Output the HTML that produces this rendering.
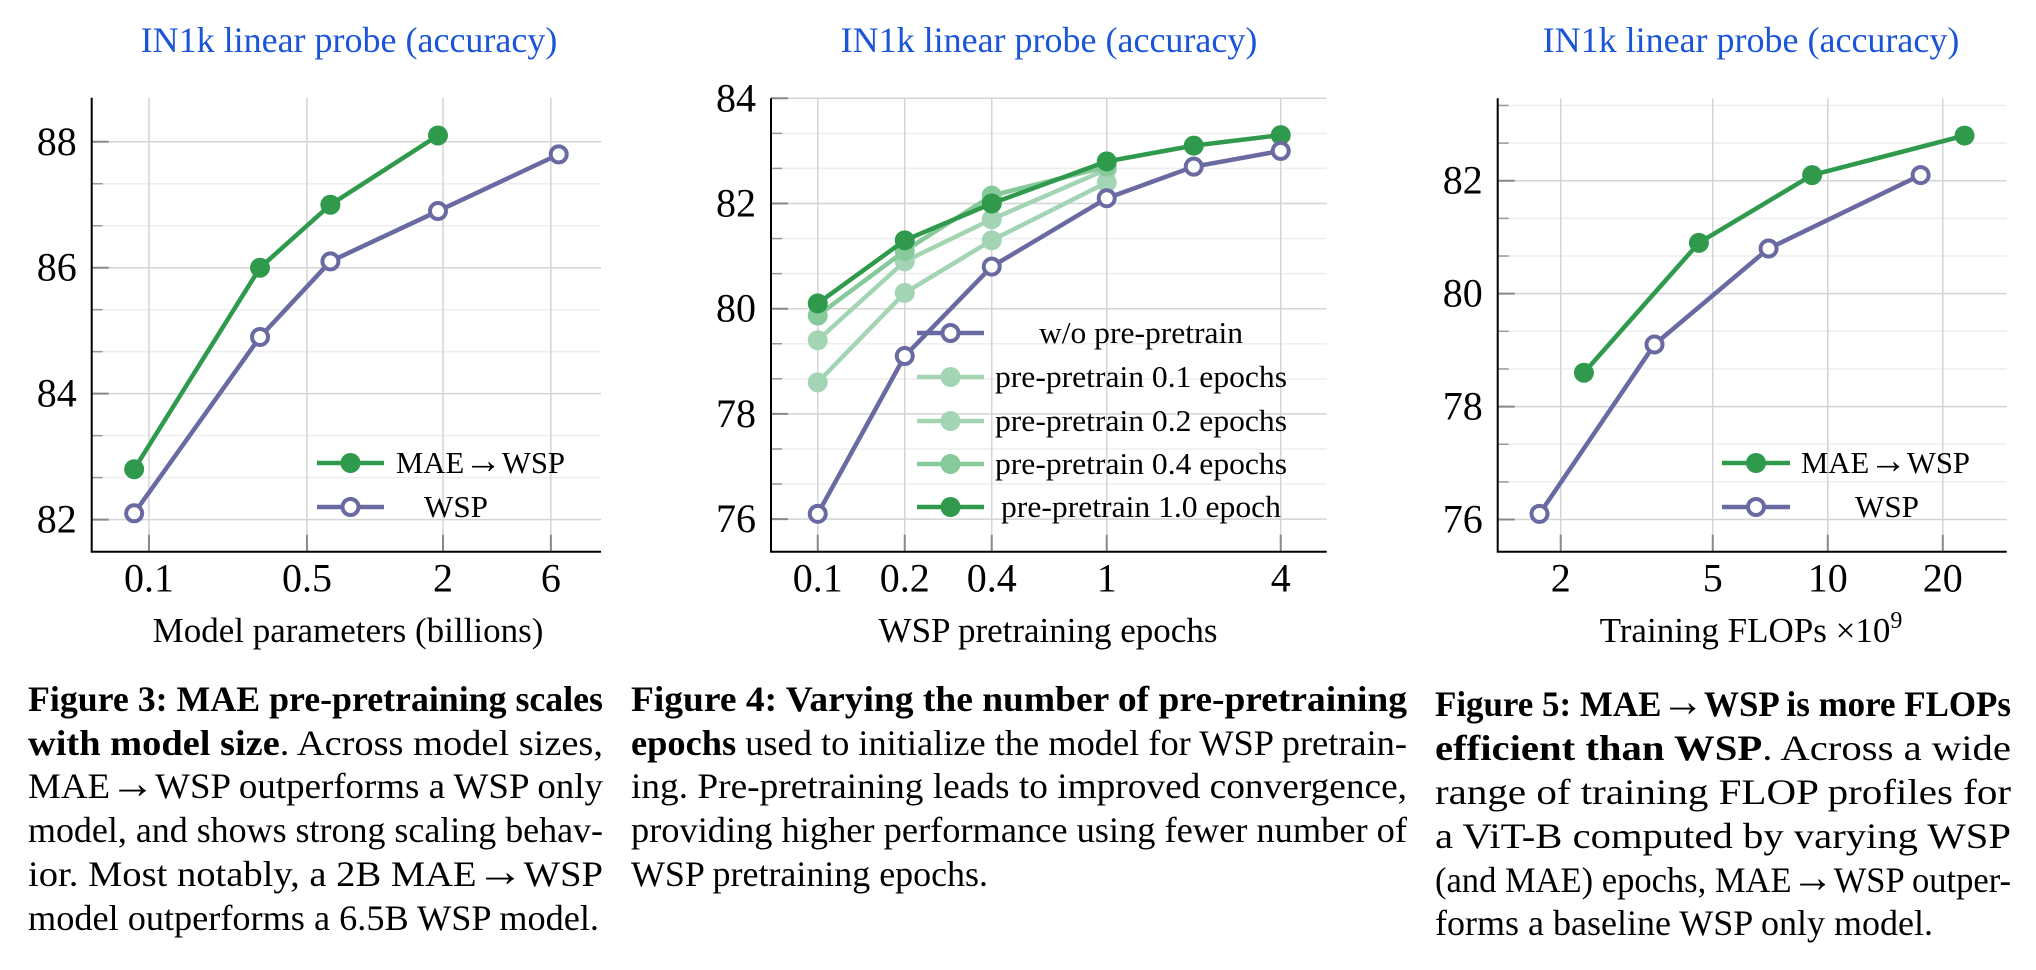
<!DOCTYPE html>
<html><head><meta charset="utf-8">
<style>
html,body{margin:0;padding:0;background:#fff;}
svg{display:block;font-family:"Liberation Serif","DejaVu Serif",serif;}
</style></head>
<body>
<svg id="fig" width="2036" height="970" viewBox="0 0 2036 970" xmlns="http://www.w3.org/2000/svg">
<g id="captions" font-size="36" fill="#000">
 <text x="28" y="711" textLength="575" lengthAdjust="spacingAndGlyphs" font-weight="bold">Figure 3: MAE pre-pretraining scales</text>
 <text x="28" y="755" textLength="575" lengthAdjust="spacingAndGlyphs"><tspan font-weight="bold">with model size</tspan>.  Across model sizes,</text>
 <text x="28" y="798" textLength="575" lengthAdjust="spacingAndGlyphs">MAE<tspan font-size="44">→</tspan>WSP outperforms a WSP only</text>
 <text x="28" y="842" textLength="575" lengthAdjust="spacingAndGlyphs">model, and shows strong scaling behav-</text>
 <text x="28" y="886" textLength="575" lengthAdjust="spacingAndGlyphs">ior.  Most notably, a 2B MAE<tspan font-size="44">→</tspan>WSP</text>
 <text x="28" y="930" textLength="571" lengthAdjust="spacingAndGlyphs">model outperforms a 6.5B WSP model.</text>

 <text x="631" y="711" textLength="776" lengthAdjust="spacingAndGlyphs" font-weight="bold">Figure 4:  Varying the number of pre-pretraining</text>
 <text x="631" y="755" textLength="776" lengthAdjust="spacingAndGlyphs"><tspan font-weight="bold">epochs</tspan> used to initialize the model for WSP pretrain-</text>
 <text x="631" y="798" textLength="776" lengthAdjust="spacingAndGlyphs">ing.  Pre-pretraining leads to improved convergence,</text>
 <text x="631" y="842" textLength="776" lengthAdjust="spacingAndGlyphs">providing higher performance using fewer number of</text>
 <text x="631" y="886" textLength="357" lengthAdjust="spacingAndGlyphs">WSP pretraining epochs.</text>

 <text x="1435" y="716" textLength="576" lengthAdjust="spacingAndGlyphs" font-weight="bold">Figure 5: MAE<tspan font-size="44">→</tspan>WSP is more FLOPs</text>
 <text x="1435" y="760" textLength="576" lengthAdjust="spacingAndGlyphs"><tspan font-weight="bold">efficient  than  WSP</tspan>.  Across  a  wide</text>
 <text x="1435" y="804" textLength="576" lengthAdjust="spacingAndGlyphs">range  of  training  FLOP  profiles  for</text>
 <text x="1435" y="848" textLength="576" lengthAdjust="spacingAndGlyphs">a  ViT-B  computed  by  varying  WSP</text>
 <text x="1435" y="892" textLength="576" lengthAdjust="spacingAndGlyphs">(and MAE) epochs, MAE<tspan font-size="44">→</tspan>WSP outper-</text>
 <text x="1435" y="935" textLength="498" lengthAdjust="spacingAndGlyphs">forms a baseline WSP only model.</text>
</g>
</svg>
<script>
// ---- Chart 1 data ----
const c1Params = [0.086, 0.31, 0.635, 1.9];
const c1MaeWsp = [82.8, 86.0, 87.0, 88.1];
const c1WspParams = [0.086, 0.31, 0.635, 1.9, 6.5];
const c1Wsp = [82.1, 84.9, 86.1, 86.9, 87.8];
const c1XTicks = [0.1, 0.5, 2, 6];
const c1XTickLabels = ["0.1", "0.5", "2", "6"];
const c1YTicks = [82, 84, 86, 88];
// ---- Chart 2 data ----
const c2Epochs = [0.1, 0.2, 0.4, 1, 2, 4];
const c2ShortEpochs = [0.1, 0.2, 0.4, 1];
const c2NoPre = [76.1, 79.1, 80.8, 82.1, 82.7, 83.0];
const c2Pre01 = [78.6, 80.3, 81.3, 82.4];
const c2Pre02 = [79.4, 80.9, 81.7, 82.65];
const c2Pre04 = [79.87, 81.1, 82.15, 82.7];
const c2Pre10 = [80.1, 81.3, 82.0, 82.8, 83.1, 83.3];
const c2XTicks = [0.1, 0.2, 0.4, 1, 4];
const c2XTickLabels = ["0.1", "0.2", "0.4", "1", "4"];
const c2YTicks = [76, 78, 80, 82, 84];
// ---- Chart 3 data ----
const c3FlopsMae = [2.3, 4.6, 9.1, 22.8];
const c3MaeWsp = [78.6, 80.9, 82.1, 82.8];
const c3FlopsWsp = [1.76, 3.52, 7.0, 17.5];
const c3Wsp = [76.1, 79.1, 80.8, 82.1];
const c3XTicks = [2, 5, 10, 20];
const c3XTickLabels = ["2", "5", "10", "20"];
const c3YTicks = [76, 78, 80, 82];

const NS = "http://www.w3.org/2000/svg";
const svg = document.getElementById("fig");
const GREEN = "#2f9a4c", PURPLE = "#6a6aa2", LIGHT = "#a3d5b4", MID = "#86c99b";

function mk(tag, attrs, parent) {
  const e = document.createElementNS(NS, tag);
  for (const k in attrs) e.setAttribute(k, attrs[k]);
  parent.appendChild(e);
  return e;
}

function makeChart(cfg) {
  const g = mk("g", {}, svg);
  
  
  const lx0 = Math.log10(cfg.xmin), lx1 = Math.log10(cfg.xmax);
  const X = v => cfg.left + (Math.log10(v) - lx0) / (lx1 - lx0) * (cfg.right - cfg.left);
  const Y = v => cfg.bottom - (v - cfg.ymin) / (cfg.ymax - cfg.ymin) * (cfg.bottom - cfg.top);
  const step = cfg.yTicks[1] - cfg.yTicks[0];
  for (let v = cfg.yTicks[0] - step; v <= cfg.yTicks[cfg.yTicks.length - 1] + step; v += step) {
    for (const f of [1/3, 2/3]) {
      const mv = v + step * f;
      if (mv <= cfg.ymin || mv >= cfg.ymax) continue;
      const y = Y(mv);
      if (y < cfg.top + 3 || y > cfg.bottom - 3) continue;
      const ml = mk("line", {x1: cfg.left, x2: cfg.right, y1: y, y2: y, stroke: "#eeeeee", "stroke-width": 1.5}, g);
      
      
      const mt = mk("line", {x1: cfg.left, x2: cfg.left + 11, y1: y, y2: y, stroke: "#999", "stroke-width": 1.5}, g);
      
      
    }
  }
  cfg.yTicks.forEach(v => {
    const y = Y(v);
    const gl = mk("line", {x1: cfg.left, x2: cfg.right, y1: y, y2: y, stroke: "#d4d4d4", "stroke-width": 1.5}, g);
    
    
    const tk = mk("line", {x1: cfg.left, x2: cfg.left + 17, y1: y, y2: y, stroke: "#888", "stroke-width": 2}, g);
    
    
    const t = mk("text", {x: cfg.left - 15, y: y + 13, "text-anchor": "end", "font-size": 40, fill: "#000"}, g);
    t.textContent = String(v);
    
    
  });
  cfg.xTicks.forEach((v, i) => {
    const x = X(v);
    const gl = mk("line", {x1: x, x2: x, y1: cfg.top, y2: cfg.bottom, stroke: "#d4d4d4", "stroke-width": 1.5}, g);
    
    
    const tk = mk("line", {x1: x, x2: x, y1: cfg.bottom - 17, y2: cfg.bottom, stroke: "#888", "stroke-width": 2}, g);
    
    
    const t = mk("text", {x: x, y: cfg.bottom + 40, "text-anchor": "middle", "font-size": 40, fill: "#000"}, g);
    t.textContent = cfg.xTickLabels[i];
    
    
  });
  const ax = mk("path", {d: `M${cfg.left},${cfg.top} V${cfg.bottom} H${cfg.right}`, fill: "none", stroke: "#000", "stroke-width": 2}, g);
  
  
  const title = mk("text", {x: cfg.titleX, y: 52, "text-anchor": "middle", "font-size": 36, fill: "#1a55d8"}, g);
  title.textContent = "IN1k linear probe (accuracy)";
  
  
  const xt = mk("text", {x: cfg.xTitleX, y: 642, "text-anchor": "middle", "font-size": 35, fill: "#000"}, g);
  xt.innerHTML = cfg.xTitle;
  
  
  cfg.series.forEach(s => {
    const sg = mk("g", {}, g);
    
    
    const pts = s.xs.map((xv, i) => X(xv) + "," + Y(s.ys[i])).join(" ");
    const pl = mk("polyline", {points: pts, fill: "none", stroke: s.color, "stroke-width": 4.5, "stroke-linejoin": "round"}, sg);
    
    
    s.xs.forEach((xv, i) => {
      const c = s.open
        ? mk("circle", {cx: X(xv), cy: Y(s.ys[i]), r: 8, fill: "#fff", stroke: s.color, "stroke-width": 4}, sg)
        : mk("circle", {cx: X(xv), cy: Y(s.ys[i]), r: 10, fill: s.color}, sg);
      
      
    });
  });
  const lg = mk("g", {}, g);
  
  
  cfg.legend.forEach(e => {
    const eg = mk("g", {}, lg);
    
    
    mk("line", {x1: e.x1, x2: e.x2, y1: e.y, y2: e.y, stroke: e.color, "stroke-width": 4.5}, eg);
    const cx = (e.x1 + e.x2) / 2;
    if (e.open) mk("circle", {cx: cx, cy: e.y, r: 8, fill: "#fff", stroke: e.color, "stroke-width": 4}, eg);
    else mk("circle", {cx: cx, cy: e.y, r: 10, fill: e.color}, eg);
    const t = mk("text", {x: e.tx, y: e.y + 10, "text-anchor": e.anchor, "font-size": 31, fill: "#000"}, eg);
    if (e.len) { t.setAttribute("textLength", e.len); t.setAttribute("lengthAdjust", "spacingAndGlyphs"); }
    t.innerHTML = e.label;
  });
}

makeChart({
  name: "chart-model-size", left: 91.7, right: 601, top: 97.7, bottom: 551.7,
  xmin: 0.0558, xmax: 10, ymin: 81.49, ymax: 88.7,
  xTicks: c1XTicks, xTickLabels: c1XTickLabels, yTicks: c1YTicks,
  titleX: 349, xTitleX: 348, xTitle: "Model parameters (billions)",
  series: [
    {name: "series-mae-wsp", xs: c1Params, ys: c1MaeWsp, color: GREEN, open: false},
    {name: "series-wsp", xs: c1WspParams, ys: c1Wsp, color: PURPLE, open: true}
  ],
  legend: [
    {x1: 317, x2: 384, y: 463, color: GREEN, open: false, tx: 396, anchor: "start", label: "MAE<tspan font-size='38'>→</tspan>WSP", len: 169},
    {x1: 317, x2: 384, y: 507, color: PURPLE, open: true, tx: 456, anchor: "middle", label: "WSP", len: 64}
  ]
});

makeChart({
  name: "chart-pretraining-epochs", left: 771, right: 1326.7, top: 98.3, bottom: 551.7,
  xmin: 0.0689, xmax: 5.77, ymin: 75.38, ymax: 84,
  xTicks: c2XTicks, xTickLabels: c2XTickLabels, yTicks: c2YTicks,
  titleX: 1049, xTitleX: 1048, xTitle: "WSP pretraining epochs",
  series: [
    {name: "series-pre-0.1", xs: c2ShortEpochs, ys: c2Pre01, color: LIGHT, open: false},
    {name: "series-pre-0.2", xs: c2ShortEpochs, ys: c2Pre02, color: LIGHT, open: false},
    {name: "series-pre-0.4", xs: c2ShortEpochs, ys: c2Pre04, color: MID, open: false},
    {name: "series-pre-1.0", xs: c2Epochs, ys: c2Pre10, color: GREEN, open: false},
    {name: "series-no-pre", xs: c2Epochs, ys: c2NoPre, color: PURPLE, open: true}
  ],
  legend: [
    {x1: 917, x2: 984, y: 333, color: PURPLE, open: true, tx: 1141, anchor: "middle", label: "w/o pre-pretrain", len: 204},
    {x1: 917, x2: 984, y: 377, color: LIGHT, open: false, tx: 995, anchor: "start", label: "pre-pretrain 0.1 epochs", len: 292},
    {x1: 917, x2: 984, y: 421, color: LIGHT, open: false, tx: 995, anchor: "start", label: "pre-pretrain 0.2 epochs", len: 292},
    {x1: 917, x2: 984, y: 464, color: MID, open: false, tx: 995, anchor: "start", label: "pre-pretrain 0.4 epochs", len: 292},
    {x1: 917, x2: 984, y: 507, color: GREEN, open: false, tx: 1001, anchor: "start", label: "pre-pretrain 1.0 epoch", len: 280}
  ]
});

makeChart({
  name: "chart-training-flops", left: 1497.7, right: 2006.7, top: 98.3, bottom: 551.7,
  xmin: 1.368, xmax: 29.4, ymin: 75.43, ymax: 83.46,
  xTicks: c3XTicks, xTickLabels: c3XTickLabels, yTicks: c3YTicks,
  titleX: 1751, xTitleX: 1751, xTitle: "Training FLOPs ×10<tspan dy='-14' font-size='24'>9</tspan>",
  series: [
    {name: "series-mae-wsp", xs: c3FlopsMae, ys: c3MaeWsp, color: GREEN, open: false},
    {name: "series-wsp", xs: c3FlopsWsp, ys: c3Wsp, color: PURPLE, open: true}
  ],
  legend: [
    {x1: 1722, x2: 1790, y: 463, color: GREEN, open: false, tx: 1801, anchor: "start", label: "MAE<tspan font-size='38'>→</tspan>WSP", len: 169},
    {x1: 1722, x2: 1790, y: 507, color: PURPLE, open: true, tx: 1887, anchor: "middle", label: "WSP", len: 64}
  ]
});
</script>
</body></html>
